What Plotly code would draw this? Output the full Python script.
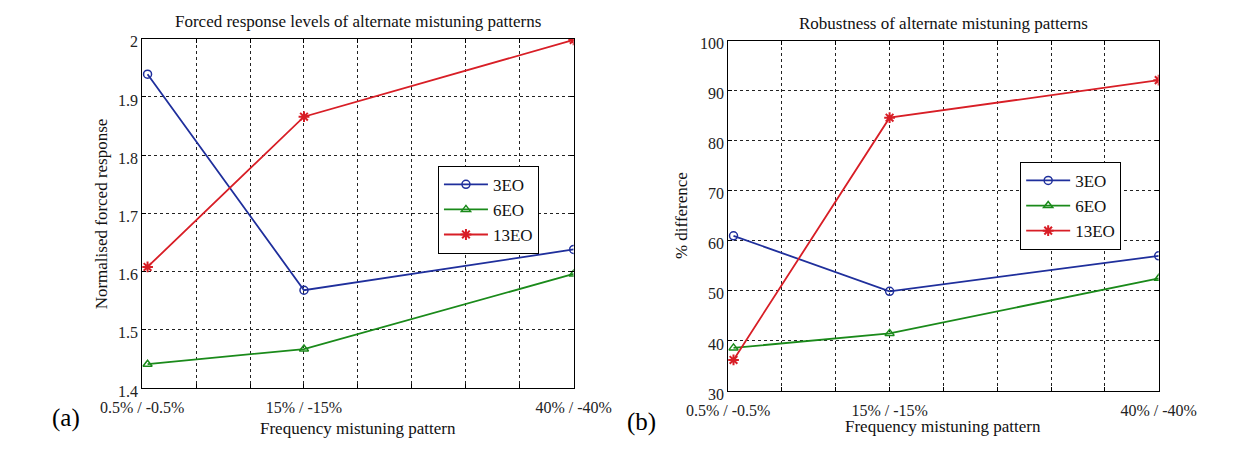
import plotly.graph_objects as go

# Mistuning patterns (x position in %, and the label shown on the axis)
mistuning_pct = [0.5, 15, 40]
tick_positions = [0, 5, 10, 15, 20, 25, 30, 35, 40]
tick_labels = ["0.5% / -0.5%", "", "", "15% / -15%", "", "", "", "", "40% / -40%"]

# (a) Normalised forced response
forced_3eo = [1.939, 1.568, 1.638]
forced_6eo = [1.441, 1.467, 1.596]
forced_13eo = [1.608, 1.866, 1.998]

# (b) Robustness, % difference
robust_3eo = [61.0, 49.9, 57.0]
robust_6eo = [38.6, 41.5, 52.5]
robust_13eo = [36.2, 84.6, 92.1]

series_names = ["3EO", "6EO", "13EO"]
colors = ["#1f2f9c", "#1a8a1a", "#d81e26"]
symbols = ["circle-open", "triangle-up-open", "asterisk-open"]

FONT = "Liberation Serif"
W, H = 1251, 453

# panel boxes in pixels: (left, right, top, bottom)
PA = (107, 568, 35, 398)
PB = (733, 1193, 37, 401)

fig = go.Figure()


def add_series(xaxis, yaxis, legend, ys):
    for name, y, c, s in zip(series_names, ys, colors, symbols):
        fig.add_trace(go.Scatter(
            x=mistuning_pct, y=y, name=name, mode="lines+markers",
            xaxis=xaxis, yaxis=yaxis, legend=legend,
            line=dict(color=c, width=1.8),
            marker=dict(symbol=s, size=8 if s != "asterisk-open" else 9,
                        color=c, line=dict(color=c, width=2 if s == "asterisk-open" else 1.5)),
        ))


add_series("x", "y", "legend", [forced_3eo, forced_6eo, forced_13eo])
add_series("x2", "y2", "legend2", [robust_3eo, robust_6eo, robust_13eo])

axis_common = dict(
    showline=True, linecolor="#000", linewidth=1, mirror="ticks",
    ticks="inside", ticklen=4, tickcolor="#000",
    showgrid=True, gridcolor="#222", gridwidth=1, griddash="3px,3px",
    zeroline=False, tickfont=dict(family=FONT, size=16, color="#222"),
)

xa = dict(axis_common, range=[0, 40], tickmode="array",
          tickvals=tick_positions, ticktext=tick_labels, ticklabelstandoff=5,
          tickfont=dict(family=FONT, size=16, color="#222"))

ya = dict(axis_common, ticklabelshift=3)


def dom_x(p):
    return [p[0] / W, p[1] / W]


def dom_y(p):
    return [1 - p[3] / H, 1 - p[2] / H]


def paper(x, y):
    return dict(x=x / W, y=1 - y / H, xref="paper", yref="paper",
                xanchor="center", yanchor="middle", showarrow=False)


legend_style = dict(xanchor="left", yanchor="top", bgcolor="white",
                    bordercolor="#000", borderwidth=1, itemwidth=44,
                    font=dict(family=FONT, size=17, color="#111"))

txt = dict(family=FONT, size=17, color="#111")

fig.update_layout(
    width=W, height=H,
    margin=dict(l=0, r=0, t=0, b=0),
    paper_bgcolor="white", plot_bgcolor="white",
    font=dict(family=FONT, color="#111"),
    xaxis=dict(xa, domain=dom_x(PA), anchor="y"),
    yaxis=dict(ya, domain=dom_y(PA), anchor="x",
               range=[1.4, 2.0], dtick=0.1, tickformat=".1~f"),
    xaxis2=dict(xa, domain=dom_x(PB), anchor="y2"),
    yaxis2=dict(ya, domain=dom_y(PB), anchor="x2",
                range=[30, 100], dtick=10),
    legend=dict(legend_style, x=423 / W, y=1 - 167 / H),
    legend2=dict(legend_style, x=1045 / W, y=1 - 163 / H),
    annotations=[
        dict(paper((PA[0] + PA[1]) / 2, 17),
             text="Forced response levels of alternate mistuning patterns", font=txt),
        dict(paper((PB[0] + PB[1]) / 2, 19),
             text="Robustness of alternate mistuning patterns", font=txt),
        dict(paper((PA[0] + PA[1]) / 2, 440), text="Frequency mistuning pattern", font=txt),
        dict(paper((PB[0] + PB[1]) / 2, 438), text="Frequency mistuning pattern", font=txt),
        dict(paper(63, (PA[2] + PA[3]) / 2), text="Normalised forced response",
             textangle=-90, font=txt),
        dict(paper(683, (PB[2] + PB[3]) / 2), text="% difference",
             textangle=-90, font=txt),
        dict(paper(26, 429), text="(a)", font=dict(family=FONT, size=25, color="#000")),
        dict(paper(640, 433), text="(b)", font=dict(family=FONT, size=25, color="#000")),
    ],
)

fig.write_html("out.html")
